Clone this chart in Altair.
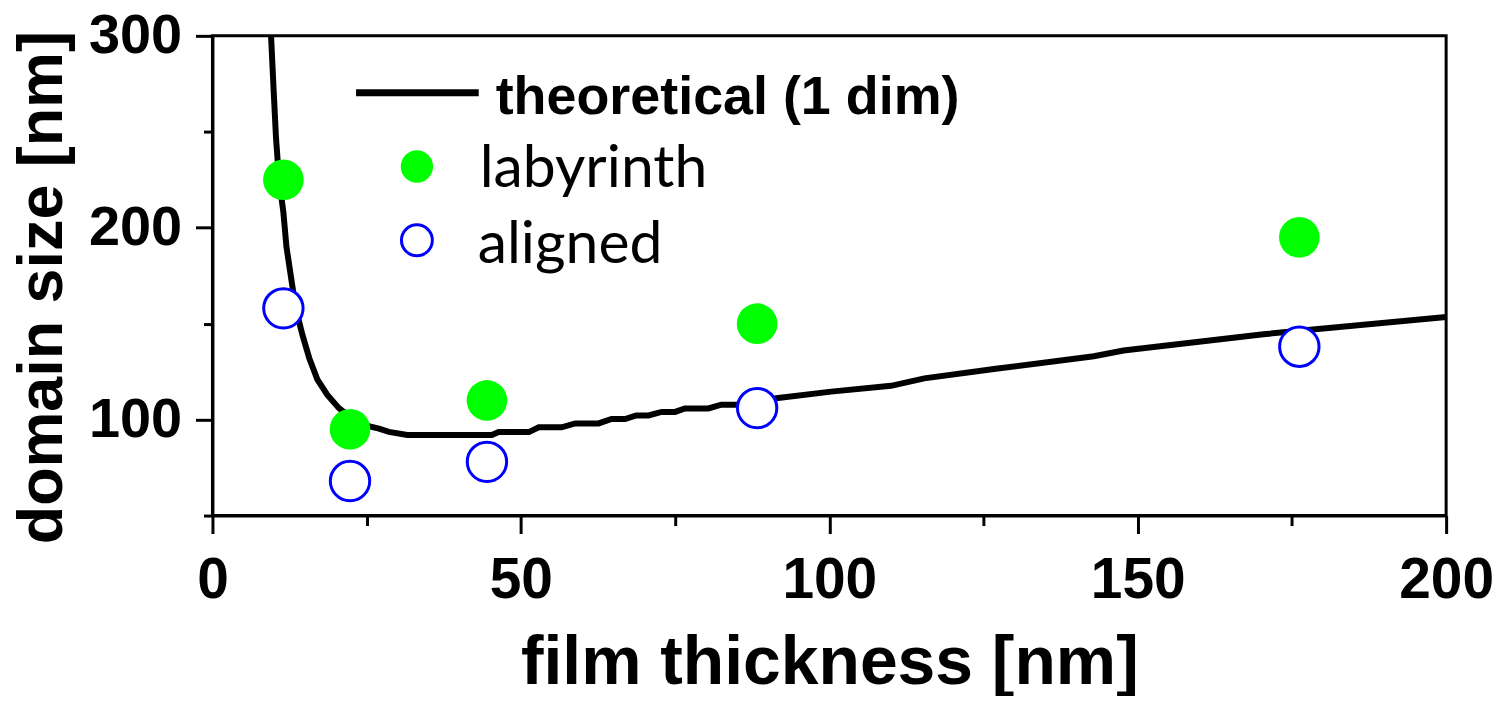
import altair as alt
import pandas as pd

# ---- data ----
thickness = [11.5, 22.3, 44.5, 88.3, 176.2]
labyrinth = [225, 95, 110, 150, 195]
aligned = [158, 68, 78, 106, 138]

theory_x = [9.5, 9.9, 10.3, 10.8, 11.5, 12.0, 12.7, 13.5, 14.6, 15.7, 17.0, 18.6,
            20.5, 22.7, 24.8, 27.0, 28.6, 31.6, 45.3, 46.4, 51.3, 52.9, 56.6, 58.8,
            62.6, 64.7, 66.9, 68.7, 70.7, 72.8, 75.0, 76.6, 80.4, 82.5, 85.2, 91.7,
            100.3, 110.0, 115.4, 127.0, 142.9, 147.7, 170.4, 200.0]
theory_y = [300, 273, 247, 225, 208, 190, 175, 158, 144, 132, 121, 113,
            106, 100.5, 97, 95.3, 93.6, 92, 92, 93.5, 93.5, 96, 96, 98,
            98, 100.3, 100.3, 102.2, 102.2, 104, 104, 105.8, 105.8, 107.8, 107.8, 111.3,
            114.6, 117.6, 121.5, 126.5, 133, 136, 144.5, 153.5]

legend_labels = ["theoretical (1 dim)", "labyrinth", "aligned"]

x_ticks = [0, 25, 50, 75, 100, 125, 150, 175, 200]
y_ticks = [50, 100, 150, 200, 250, 300]

W, H = 1237, 481

df_pts = pd.DataFrame({"t": thickness, "lab": labyrinth, "ali": aligned})
df_th = pd.DataFrame({"t": theory_x, "d": theory_y})

xscale = alt.Scale(domain=[0, 200], nice=False, zero=False)
yscale = alt.Scale(domain=[50, 300], nice=False, zero=False)

AXF = "Liberation Sans"

xaxis = alt.Axis(
    values=x_ticks,
    labelExpr="datum.value % 50 === 0 ? datum.label : ''",
    tickSize={"condition": {"test": "datum.value % 50 === 0", "value": 18}, "value": 10},
    grid=False, labelFont=AXF, labelFontSize=57, labelFontWeight="bold",
    labelColor="black", labelBaseline="alphabetic", labelPadding=64,
    labelFlush=False, labelOverlap=False,
    title="film thickness [nm]", titleFont=AXF, titleFontSize=68,
    titleFontWeight="bold", titleColor="black", titleBaseline="alphabetic",
    titleY=168, titlePadding=0,
)
yaxis = alt.Axis(
    values=y_ticks,
    labelExpr="datum.value % 100 === 0 ? datum.label : ''",
    tickSize={"condition": {"test": "datum.value % 100 === 0", "value": 17}, "value": 9},
    grid=False, labelFont=AXF, labelFontSize=56, labelFontWeight="bold",
    labelColor="black", labelBaseline="middle", labelPadding=14,
    labelFlush=False, labelOverlap=False,
    title="domain size [nm]", titleFont=AXF, titleFontSize=63,
    titleFontWeight="bold", titleColor="black", titleBaseline="alphabetic",
    titleAngle=270, titleX=-151, titleY=252, titleAlign="center",
)

line = alt.Chart(df_th).mark_line(color="black", strokeWidth=6, clip=True).encode(
    x=alt.X("t:Q", scale=xscale, axis=xaxis),
    y=alt.Y("d:Q", scale=yscale, axis=yaxis),
    order="t:Q",
)

lab = alt.Chart(df_pts).mark_point(
    shape="circle", filled=True, fill="#00ff00", stroke=None, size=1660, opacity=1
).encode(x=alt.X("t:Q", scale=xscale), y=alt.Y("lab:Q", scale=yscale))

ali = alt.Chart(df_pts).mark_point(
    shape="circle", filled=True, fill="white", stroke="#0000ff", strokeWidth=3,
    size=1560, opacity=1, fillOpacity=1
).encode(x=alt.X("t:Q", scale=xscale), y=alt.Y("ali:Q", scale=yscale))

# ---- manual legend ----
df_leg = pd.DataFrame({"label": legend_labels})
leg_line = alt.Chart(df_leg.iloc[[0]]).mark_rule(color="black", strokeWidth=7).encode(
    x=alt.value(144), x2=alt.value(267), y=alt.value(57)
)
leg_t1 = alt.Chart(df_leg.iloc[[0]]).mark_text(
    font=AXF, fontSize=54, fontWeight="bold", align="left", baseline="alphabetic", color="black"
).encode(x=alt.value(284), y=alt.value(78), text="label:N")
leg_dot = alt.Chart(df_leg.iloc[[1]]).mark_point(
    shape="circle", filled=True, fill="#00ff00", stroke=None, size=1050, opacity=1
).encode(x=alt.value(205), y=alt.value(131))
leg_t2 = alt.Chart(df_leg.iloc[[1]]).mark_text(
    font="Lato", fontSize=59, align="left", baseline="alphabetic", color="black"
).encode(x=alt.value(268), y=alt.value(152), text="label:N")
leg_circ = alt.Chart(df_leg.iloc[[2]]).mark_point(
    shape="circle", filled=True, fill="white", stroke="#0000ff", strokeWidth=3,
    size=960, opacity=1
).encode(x=alt.value(205), y=alt.value(205))
leg_t3 = alt.Chart(df_leg.iloc[[2]]).mark_text(
    font="Lato", fontSize=59, align="left", baseline="alphabetic", color="black"
).encode(x=alt.value(266), y=alt.value(228), text="label:N")

chart = alt.layer(
    line, lab, ali, leg_line, leg_t1, leg_dot, leg_t2, leg_circ, leg_t3
).properties(
    width=W, height=H,
    autosize=alt.AutoSizeParams(type="none"),
    padding={"left": 205, "top": 27, "right": 50, "bottom": 180},
    background="white",
).configure_view(
    stroke="black", strokeWidth=3
).configure_axis(
    domainColor="black", domainWidth=3, tickColor="black", tickWidth=3
)

chart.save("out.html", embed_options={"renderer": "svg", "actions": False})
